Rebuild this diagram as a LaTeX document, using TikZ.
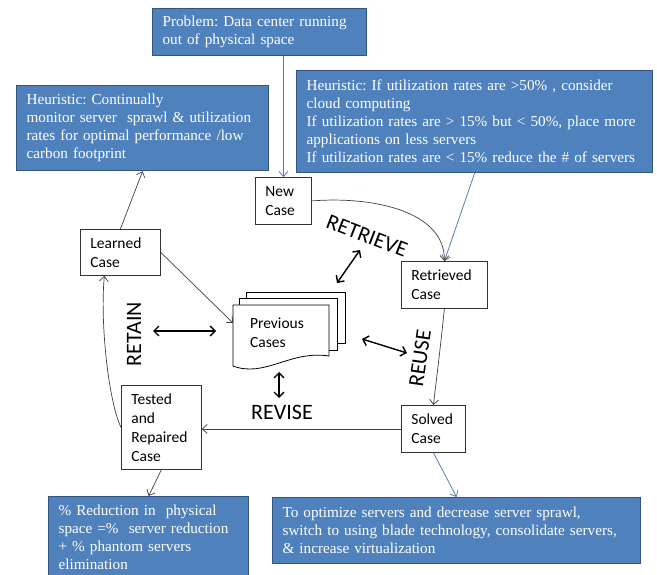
\documentclass[tikz,border=0pt]{standalone}
\usepackage{fontspec}
\setmainfont{Liberation Serif}
\newfontfamily\carlito{Carlito}
\usetikzlibrary{arrows.meta}
\frenchspacing
\definecolor{azulcaja}{RGB}{79,129,189}
\definecolor{bordecaja}{RGB}{52,84,128}
\definecolor{azulflecha}{RGB}{91,125,177}
\definecolor{grisflecha}{RGB}{64,64,64}

\tikzset{
	cajaazul/.style={draw=bordecaja, line width=1.2pt, fill=azulcaja, text=white, anchor=north west, align=left, inner xsep=10pt, inner ysep=4pt, font=\fontsize{15.2}{18}\selectfont},
	caso/.style={draw=black!80, line width=0.8pt, fill=white, anchor=north west, align=left, inner xsep=10pt, inner ysep=3pt, font=\carlito\fontsize{15.5}{19}\selectfont},
	etapa/.style={font=\carlito\fontsize{22}{26}\selectfont},
	flecha/.style={draw=grisflecha, line width=0.7pt, -{Straight Barb[length=5pt,width=9pt]}},
	conexion/.style={draw=azulflecha, line width=0.8pt, -{Straight Barb[length=5pt,width=9pt]}},
	doble/.style={line width=1.4pt, {Straight Barb[length=5pt,width=10pt]}-{Straight Barb[length=5pt,width=10pt]}}
}

\begin{document}
\begin{tikzpicture}[x=1pt, y=-1pt]
	\useasboundingbox (0,0) rectangle (657,575);
	% Cajas azules con el problema y las heuristicas
	\node[cajaazul, text width=194pt, minimum height=47pt] (problema) at (152,8) {Problem: Data center running\\out of physical space};
	\node[cajaazul, text width=232pt, minimum height=85pt] (heurizq) at (16,85) {Heuristic: Continually\\monitor server\ \ sprawl \& utilization\\rates for optimal performance /low\\carbon footprint};
	\node[cajaazul, text width=336pt, minimum height=102pt] (heurder) at (296,70) {Heuristic: If utilization rates are >50\% , consider\\cloud computing\\If utilization rates are > 15\% but < 50\%, place more\\applications on less servers\\If utilization rates are < 15\% reduce the \# of servers};
	\node[cajaazul, text width=180pt, minimum height=82pt] (reduccion) at (48,496) {\% Reduction in\ \ physical\\space =\%\ \ server reduction\\+ \% phantom servers\\elimination};
	\node[cajaazul, text width=348pt, minimum height=66pt] (optimizar) at (272,497) {To optimize servers and decrease server sprawl,\\switch to using blade technology, consolidate servers,\\\& increase virtualization};

	% Casos del ciclo
	\node[caso, text width=36pt, minimum height=47pt] (nuevo) at (255,177) {New\\Case};
	\node[caso, text width=60pt, minimum height=46pt] (aprendido) at (80,229) {Learned\\Case};
	\node[caso, text width=66pt, minimum height=47pt] (recuperado) at (401,261) {Retrieved\\Case};
	\node[caso, text width=60pt, minimum height=84pt] (probado) at (121,385) {Tested\\and\\Repaired\\Case};
	\node[caso, text width=44pt, minimum height=47pt] (resuelto) at (401,405) {Solved\\Case};

	% Pila de casos previos
	\draw[fill=white, line width=0.8pt] (246,292) rectangle (345,343);
	\draw[fill=white, line width=0.8pt] (239,298) rectangle (337,350);
	\draw[fill=white, line width=0.8pt] (233,305) -- (329,305) -- (329,356) .. controls (290,350) and (265,378) .. (233,366) -- cycle;
	\node[align=left, font=\carlito\fontsize{15.5}{19}\selectfont] (previos) at (277,333) {Previous\\Cases};
	\coordinate (doc-izq) at (233,323);

	% Etapas
	\node[etapa, rotate=-21] (retrieve) at (367,236) {RETRIEVE};
	\node[etapa, rotate=90] (retain) at (134,334) {RETAIN};
	\node[etapa, rotate=82] (reuse) at (420,358) {REUSE};
	\node[etapa] (revise) at (282,412) {REVISE};

	% Extremos de las flechas dobles
	\coordinate (ret-a) at (153,331);
	\coordinate (ret-b) at (216,331);
	\coordinate (rec-a) at (337,283);
	\coordinate (rec-b) at (360,250);
	\coordinate (reu-a) at (362,339);
	\coordinate (reu-b) at (407,353);
	\coordinate (rev-a) at (279,372);
	\coordinate (rev-b) at (279,398);
	\draw[doble] (ret-a) -- (ret-b);
	\draw[doble] (rec-a) -- (rec-b);
	\draw[doble] (reu-a) -- (reu-b);
	\draw[doble] (rev-a) -- (rev-b);

	% Conexiones
	\draw[conexion] (problema.south -| nuevo.north) -- (nuevo.north);
	\draw[conexion] (heurder.south) -- (recuperado.north);
	\draw[flecha] (nuevo.east) .. controls (375,196) and (445,212) .. (recuperado.north);
	\draw[flecha] (aprendido.north) -- (heurizq.south);
	\draw[flecha] (aprendido.east) -- (doc-izq);
	\draw[flecha] (probado.west) .. controls (108,400) and (100,320) .. ([xshift=-16pt]aprendido.south);
	\draw[flecha] (recuperado.south) .. controls (440,350) .. (resuelto.north);
	\draw[flecha] (resuelto.west) -- (resuelto.west -| probado.east);
	\draw[flecha] (probado.south) -- (reduccion.north);
	\draw[conexion] (resuelto.south) -- (optimizar.north);
\end{tikzpicture}
\end{document}
